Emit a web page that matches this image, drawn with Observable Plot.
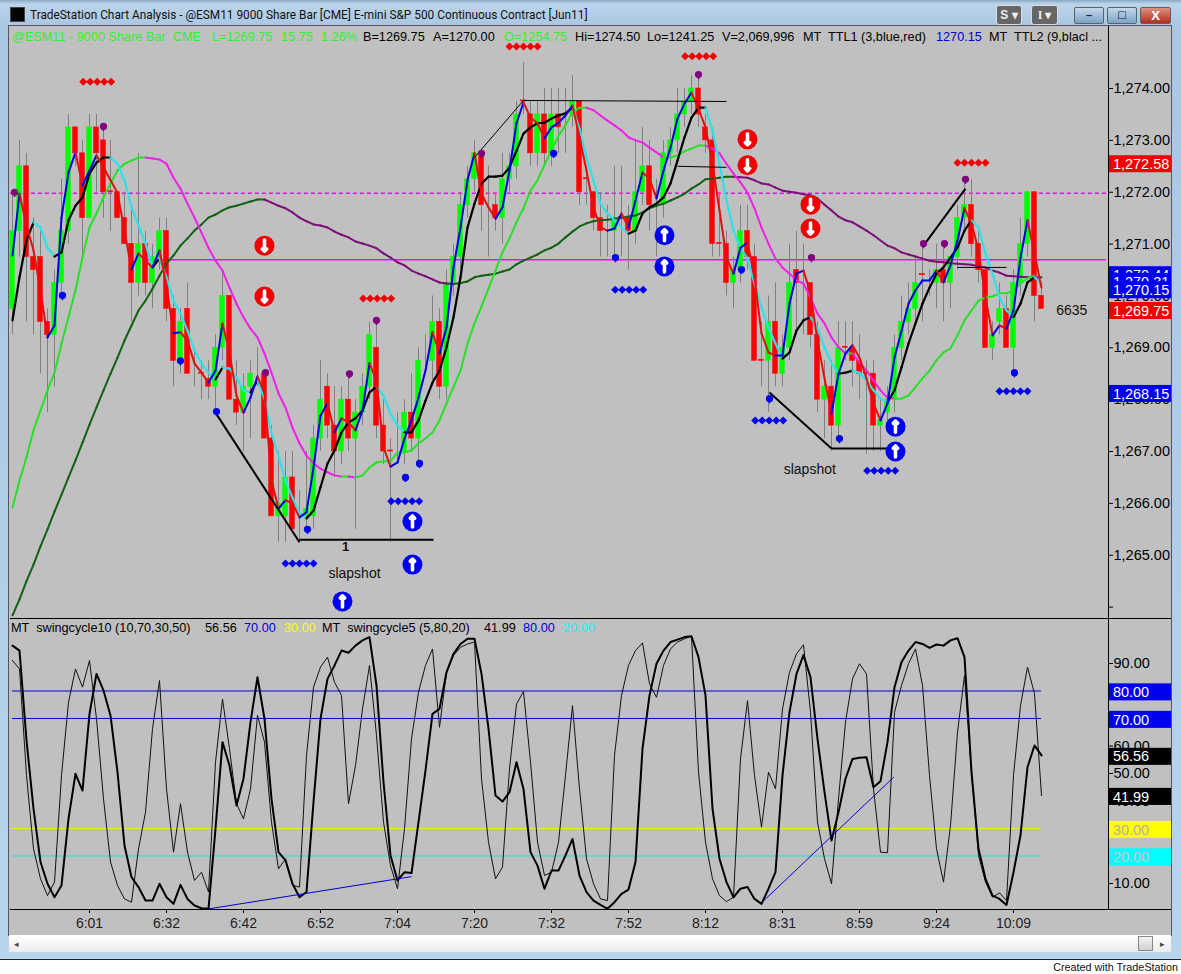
<!DOCTYPE html>
<html><head><meta charset="utf-8">
<script src="https://cdn.jsdelivr.net/npm/d3@7"></script>
<script src="https://cdn.jsdelivr.net/npm/@observablehq/plot@0.6"></script>
<style>
html,body{margin:0;padding:0;background:#fff;width:1181px;height:974px;overflow:hidden;font-family:"Liberation Sans",Arial,sans-serif}
.abs{position:absolute;white-space:pre}
.leg{position:absolute;white-space:pre;font:12.7px "Liberation Sans",sans-serif;line-height:16px}
</style></head><body>
<div id="root" style="position:relative;width:1181px;height:974px"></div>
<script>
const barOpen=[1269.75,1271.25,1272.5,1270.75,1270.75,1269.5,1269.25,1270.25,1271.25,1273.25,
1272.75,1271.5,1273.25,1273,1272.02,1272,1271.5,1271,1270.25,1271,
1270.25,1270.75,1271.25,1269.75,1268.75,1269.75,1268.5,1268.52,1268.4,1268.25,
1269,1270,1268,1267.75,1268.25,1268.5,1268.5,1267.25,1265.75,1265.75,
1266.5,1265.5,1265.75,1265.75,1267.25,1268.25,1267.5,1267,1268,1267.25,
1267.75,1268.25,1269,1267.5,1267.02,1267,1267,1267.75,1267.25,1268.75,
1268.75,1269.5,1268.25,1270.25,1270.75,1271.75,1272.25,1272.75,1271.75,1271.75,
1271.5,1272.25,1272.5,1273.77,1273.5,1272.75,1273.5,1272.75,1273.5,1273.5,
1273.5,1273.75,1272.27,1272,1271.5,1271.25,1271.25,1271.52,1271.5,1271.25,
1272,1272.5,1271.85,1271.75,1272.75,1273,1273.5,1273.75,1274,1273.25,
1273,1271.02,1271,1270.25,1270.5,1271.25,1270.75,1268.77,1268.75,1269.5,
1268.5,1269,1270.5,1270.4,1270.25,1269.25,1268,1268.25,1267.5,1269.02,
1269,1268.75,1268.52,1268.5,1267.5,1267.75,1268,1269,1269.5,1269.75,
1270.42,1270.4,1270.25,1270.5,1270.25,1270.75,1271.5,1271.75,1271,1270.5,
1269,1269.5,1269.75,1269,1270.25,1271,1272,1270];
const barClose=[1271.25,1272.5,1270.75,1270.5,1269.5,1269.25,1270.25,1271.25,1273.25,1272.75,
1271.5,1273.25,1272.75,1272,1272,1271.5,1271,1270.25,1271,1270.25,
1270.75,1271.25,1269.75,1268.75,1269.5,1268.5,1268.5,1268.5,1268.25,1269,
1270,1268,1267.75,1268.25,1268.5,1268.5,1267.25,1265.75,1266,1266.5,
1265.5,1265.5,1265.9,1267.25,1268,1267.5,1267,1268,1267.25,1267.75,
1268.25,1269.25,1267.5,1267,1267,1267,1267.75,1267.25,1268.75,1268.75,
1269.5,1268.25,1270.25,1270.75,1271.75,1272.25,1272.75,1271.75,1271.75,1271.5,
1272.25,1272.5,1273.5,1273.75,1272.75,1273.5,1272.75,1273.5,1273.25,1273.5,
1273.75,1272,1272.25,1271.5,1271.25,1271.25,1271.5,1271.5,1271.25,1272,
1272.5,1271.75,1271.85,1272.75,1273,1273.5,1273.75,1274,1273.5,1273,
1271,1271,1270.25,1270.5,1271.25,1270.75,1268.75,1268.75,1269.5,1268.5,
1269,1270.25,1270.25,1270.4,1269.25,1268,1268.25,1267.5,1269,1269,
1268.75,1268.5,1268.5,1267.5,1267.6,1268,1269,1269.5,1269.75,1270.25,
1270.4,1270.4,1270.5,1270.25,1270.75,1271.5,1271.75,1271,1270.5,1269,
1269.25,1269.75,1269,1270.25,1271,1272,1270,1269.75];
const barHigh=[1272,1273,1272.75,1271.5,1271.25,1269.75,1270.5,1272.25,1273.5,1273.25,
1273,1273.5,1273.5,1273.25,1273,1272,1272,1271.75,1272.75,1271.25,
1271,1271.5,1271.5,1270,1269.75,1270.25,1269,1268.75,1268.75,1269.25,
1270.5,1270,1268.75,1268.5,1268.75,1269,1268.5,1267.5,1267,1267,
1267,1266.25,1267,1267.5,1268.75,1268.5,1268.25,1268.25,1268.5,1268,
1268.5,1269.5,1269.5,1268,1267.25,1267.75,1268,1268.5,1269,1269.25,
1270,1269.75,1270.5,1271,1272,1272.5,1273,1272.75,1272.5,1272,
1272.75,1272.75,1273.75,1274.5,1273.75,1273.75,1274,1274,1274,1274,
1274.25,1273.75,1272.5,1272,1272,1271.75,1272.5,1272.5,1271.75,1273,
1273.25,1273,1272.25,1273,1273.25,1274,1274,1274.25,1274.25,1273.5,
1273.25,1272,1271.25,1270.75,1271.75,1271.75,1271,1269.5,1270,1270.25,
1269.25,1271,1271.25,1271,1270.25,1269.5,1268.75,1268.75,1269.5,1269.5,
1269.5,1269.25,1268.75,1268.75,1268,1268.25,1269.25,1270,1270.25,1270.75,
1271,1270.5,1271,1271,1270.75,1271.75,1272.25,1272.25,1271.25,1270.5,
1269.5,1270.25,1270,1270.5,1271.5,1272,1272,1270.25];
const barLow=[1269.25,1270.75,1269.5,1269.25,1268.5,1267.75,1268.25,1270,1271,1272.5,
1270.75,1271.5,1272,1271.5,1271.25,1271.5,1271,1269.5,1270,1270,
1269.75,1270.5,1269.5,1268.25,1268.5,1268.5,1268.25,1268,1268,1267.75,
1268.75,1268,1267.5,1267,1267.25,1268.25,1267.25,1265.75,1265.25,1265.25,
1265.5,1265.25,1265.5,1265.5,1267,1267.25,1266.5,1266.75,1267,1265.5,
1267.5,1268,1267.25,1266.75,1265.25,1266.75,1266.75,1267,1266.75,1268.5,
1268.25,1268,1268,1270,1270.5,1271.5,1272,1271.25,1270.75,1271.25,
1271,1272,1272.25,1273.5,1272.5,1272.5,1272.5,1272.5,1272.75,1272.75,
1273.25,1271.75,1271.75,1271.25,1270.75,1270.75,1270.75,1270.75,1270.5,1271,
1271.75,1271.25,1270.75,1271.5,1272.5,1272.75,1273.25,1273.5,1273.25,1272.75,
1270.75,1270.75,1270,1269.75,1270.25,1270.5,1268.75,1268.25,1267.75,1268.25,
1268.25,1268.75,1269.25,1269.25,1269,1267.75,1267.25,1267,1267.25,1268.75,
1268.25,1268,1266.95,1267,1267,1267.5,1267.75,1268.75,1269.25,1269.5,
1269.5,1270,1269.75,1269.5,1269.75,1270.5,1271.25,1270.75,1270.25,1269,
1268.75,1269.25,1269,1268.5,1270,1270.75,1269.5,1269.75];
const ttl1=[1270.78,1271.97,1271.36,1270.88,1270.11,1269.20,1269.43,1271.51,1272.38,1272.77,
1272.13,1272.42,1272.71,1272.48,1272.23,1271.99,1271.26,1270.51,1270.82,1270.68,
1270.55,1270.88,1270.20,1269.28,1269.30,1269.14,1268.70,1268.52,1268.33,1268.56,
1269.47,1268.91,1268.08,1267.75,1268.04,1268.45,1268.12,1266.44,1265.90,1266.06,
1266.00,1265.73,1265.83,1266.69,1267.69,1267.93,1267.37,1267.64,1267.56,1267.41,
1267.79,1268.70,1268.37,1267.08,1266.71,1266.79,1267.25,1267.60,1268.04,1268.56,
1269.30,1268.89,1269.39,1270.55,1271.32,1272.23,1272.75,1271.97,1271.71,1271.49,
1271.71,1272.42,1273.33,1273.73,1273.44,1273.33,1273.04,1273.25,1273.34,1273.48,
1273.67,1273.06,1272.42,1271.71,1271.32,1271.26,1271.30,1271.59,1271.32,1271.84,
1272.38,1272.26,1271.88,1272.42,1272.86,1273.42,1273.71,1273.92,1273.61,1273.25,
1272.55,1271.65,1270.74,1270.43,1270.93,1271.03,1270.36,1269.28,1268.91,1268.85,
1268.85,1269.85,1270.43,1270.49,1270.05,1269.14,1268.41,1267.73,1268.50,1268.89,
1269.05,1268.81,1268.41,1267.93,1267.60,1267.93,1268.81,1269.33,1269.85,1270.11,
1270.30,1270.30,1270.49,1270.26,1270.59,1271.07,1271.69,1271.40,1270.88,1269.97,
1269.24,1269.43,1269.37,1269.72,1270.74,1271.46,1270.82,1270.16];
const ttl2=[1269.53,1270.36,1271.07,1271.42,1271.32,1270.93,1270.76,1270.84,1271.46,1271.74,
1271.90,1272.36,1272.57,1272.67,1272.67,1272.55,1272.23,1271.71,1271.36,1271.01,
1270.55,1270.72,1270.36,1269.91,1269.66,1269.33,1268.95,1268.70,1268.52,1268.39,
1268.62,1268.60,1268.43,1268.18,1268.14,1268.37,1268.02,1267.35,1266.92,1266.44,
1266.11,1265.81,1265.71,1265.86,1266.31,1266.77,1267.02,1267.37,1267.56,1267.64,
1267.79,1268.14,1268.25,1268.08,1267.73,1267.50,1267.37,1267.37,1267.60,1267.98,
1268.33,1268.56,1269.01,1269.59,1270.36,1271.32,1271.78,1272.17,1272.30,1272.30,
1272.32,1272.48,1272.80,1273.13,1273.25,1273.33,1273.34,1273.42,1273.48,1273.52,
1273.63,1273.23,1272.67,1272.23,1271.78,1271.59,1271.46,1271.32,1271.20,1271.26,
1271.59,1271.71,1271.78,1271.90,1272.17,1272.61,1273.06,1273.44,1273.63,1273.63,
1273.19,1272.55,1271.84,1271.26,1270.93,1270.72,1270.24,1269.78,1269.39,1269.08,
1268.79,1268.91,1269.33,1269.53,1269.59,1269.39,1269.01,1268.70,1268.50,1268.52,
1268.56,1268.52,1268.37,1268.18,1268.02,1267.95,1268.18,1268.62,1269.08,1269.47,
1269.85,1270.16,1270.43,1270.55,1270.74,1270.93,1271.26,1271.46,1271.32,1270.82,
1270.43,1269.97,1269.72,1269.59,1269.85,1270.26,1270.36,1270.24];
const avgMid=[1265.92,1266.44,1266.89,1267.41,1267.79,1268.18,1268.52,1269.08,1269.59,1270.11,
1270.74,1271.32,1271.59,1271.90,1272.17,1272.42,1272.55,1272.61,1272.67,1272.67,
1272.65,1272.63,1272.55,1272.28,1272.07,1271.78,1271.51,1271.22,1270.93,1270.68,
1270.49,1270.16,1269.85,1269.59,1269.37,1269.20,1268.89,1268.52,1268.12,1267.85,
1267.46,1267.16,1266.92,1266.77,1266.67,1266.60,1266.54,1266.52,1266.52,1266.50,
1266.54,1266.69,1266.79,1266.81,1266.81,1266.98,1266.98,1267.02,1267.16,1267.25,
1267.37,1267.60,1267.93,1268.24,1268.56,1269.08,1269.47,1269.80,1270.14,1270.49,
1270.84,1271.11,1271.42,1271.69,1272.03,1272.23,1272.53,1272.80,1273.09,1273.29,
1273.54,1273.63,1273.63,1273.58,1273.48,1273.38,1273.29,1273.19,1273.06,1273.00,
1272.96,1272.86,1272.77,1272.67,1272.67,1272.71,1272.79,1272.84,1272.90,1272.90,
1272.84,1272.75,1272.55,1272.36,1272.19,1271.99,1271.69,1271.32,1271.01,1270.72,
1270.55,1270.43,1270.30,1270.24,1269.97,1269.66,1269.47,1269.20,1269.01,1268.89,
1268.89,1268.72,1268.56,1268.37,1268.18,1268.04,1268.02,1268.02,1268.08,1268.24,
1268.41,1268.56,1268.76,1268.91,1268.99,1269.24,1269.53,1269.72,1269.91,1269.97,
1269.99,1270.05,1270.05,1270.11,1270.24,1270.34,1270.39,1270.24];
const avgLong=[1263.84,1264.15,1264.50,1264.82,1265.17,1265.50,1265.84,1266.17,1266.50,1266.83,
1267.17,1267.52,1267.85,1268.18,1268.50,1268.81,1269.14,1269.43,1269.72,1269.91,
1270.14,1270.39,1270.63,1270.78,1270.97,1271.11,1271.26,1271.38,1271.51,1271.57,
1271.65,1271.71,1271.74,1271.78,1271.82,1271.86,1271.86,1271.80,1271.74,1271.69,
1271.61,1271.51,1271.44,1271.38,1271.36,1271.32,1271.24,1271.18,1271.13,1271.05,
1271.01,1270.97,1270.92,1270.82,1270.74,1270.65,1270.59,1270.49,1270.43,1270.38,
1270.32,1270.26,1270.24,1270.23,1270.25,1270.28,1270.36,1270.39,1270.41,1270.43,
1270.47,1270.51,1270.61,1270.68,1270.74,1270.80,1270.88,1270.93,1271.01,1271.13,
1271.24,1271.34,1271.40,1271.44,1271.46,1271.47,1271.49,1271.51,1271.53,1271.55,
1271.61,1271.69,1271.74,1271.78,1271.84,1271.90,1271.97,1272.07,1272.15,1272.25,
1272.26,1272.28,1272.30,1272.30,1272.29,1272.28,1272.23,1272.17,1272.15,1272.09,
1272.03,1272.01,1271.99,1271.96,1271.94,1271.88,1271.76,1271.65,1271.53,1271.46,
1271.42,1271.34,1271.26,1271.17,1271.07,1270.97,1270.92,1270.84,1270.80,1270.76,
1270.72,1270.68,1270.66,1270.65,1270.63,1270.62,1270.61,1270.60,1270.57,1270.55,
1270.49,1270.45,1270.39,1270.38,1270.37,1270.36,1270.36,1270.36];
const swing10=[96.5,94.7,62.0,37.2,17.8,9.9,5.0,9.3,33.5,49.9,43.8,71.7,86.2,80.2,71.1,50.5,23.8,12.3,8.7,3.8,
3.8,9.9,5.0,2.6,9.5,4.4,2.0,1.0,0.8,29.9,61.4,52.9,38.4,48.1,68.7,85.0,69.9,40.8,21.4,18.4,
9.9,5.0,6.9,39.6,69.9,84.4,89.3,94.7,93.9,96.5,98.4,99.6,82.0,46.9,20.2,11.1,14.1,13.8,32.3,51.1,
71.7,73.5,86.8,93.5,97.1,99.0,99.0,86.2,66.3,42.0,39.8,43.2,54.1,44.4,21.4,16.5,8.1,14.7,14.7,20.2,
26.2,12.9,6.9,3.8,2.2,0.8,3.2,6.2,7.8,17.8,59.0,78.4,89.9,94.7,97.8,98.7,99.6,99.9,92.3,78.4,
37.2,19.0,10.5,5.0,8.1,8.7,4.4,2.6,8.1,14.1,49.3,72.3,86.2,93.1,85.0,62.6,43.2,25.6,35.9,48.1,
55.3,55.7,55.9,45.0,47.2,61.4,81.4,90.5,94.7,97.8,97.1,95.7,96.9,96.5,98.4,99.2,92.3,50.5,22.6,11.7,
5.6,4.4,2.2,14.1,27.5,52.3,60.2,56.6];
const swing5=[91.1,88.0,49.3,22.6,11.7,5.6,10.5,49.3,75.9,88.0,81.4,91.1,69.9,40.8,17.8,9.3,4.4,3.2,22.6,35.9,
66.3,83.8,44.4,21.4,39.0,21.4,11.1,14.1,6.9,54.1,77.1,59.0,39.0,33.5,44.4,71.1,61.4,32.3,15.3,19.0,
9.3,8.7,56.6,81.4,88.7,92.3,83.2,78.4,39.0,52.9,73.5,89.3,63.8,32.3,16.5,8.1,29.9,62.6,79.6,89.3,
95.3,66.8,86.8,92.9,95.9,97.1,97.8,48.1,25.0,11.7,16.0,51.7,75.3,79.8,54.1,25.0,12.9,14.1,25.0,49.3,
74.7,44.4,19.0,9.9,4.4,3.8,56.6,78.4,89.3,94.7,97.5,82.6,77.7,89.3,95.3,97.8,99.0,99.9,50.5,25.0,
11.7,5.6,3.4,5.0,55.3,76.5,49.3,30.5,50.5,44.4,73.5,86.8,93.5,96.8,72.3,32.3,19.0,9.9,40.8,68.7,
84.4,89.9,86.2,44.4,21.4,21.2,72.3,82.0,89.9,95.3,82.0,49.3,22.6,10.5,31.1,65.0,85.6,50.5,20.2,10.5,
5.0,6.6,3.8,49.3,74.7,88.7,79.0,42.0];
const priceTicks=[1264,1265,1266,1267,1268,1269,1270,1271,1272,1273,1274];
const swingTicks=[10,40,50,60,90];
const timeTickBars=[11,22,33,44,55,66,77,88,99,110,121,132,143];
const timeTickLabels=["6:01","6:32","6:42","6:52","7:04","7:20","7:32","7:52","8:12","8:31","8:59","9:24","10:09"];
const purpleDots=[[0.3,1272],[13,1273.27],[36.14,1268.52],[48.14,1268.5],[52,1269.53],[67,1272.75],[98,1274.27],[114.14,1270.74],[130.14,1271.01],[133.14,1271.01],[136.14,1272.25]];
const blueDots=[[7.14,1270.01],[24,1268.75],[29.14,1267.77],[42.14,1265.5],[56.14,1266.5],[58.14,1266.77],[77.3,1272.75],[86.14,1270.74],[104.14,1270.51],[108.14,1268.02],[118.14,1267.25],[143.14,1268.52]];
const redRows=[[12.1,1274.13],[52.1,1269.95],[73,1274.81],[98.1,1274.62],[137,1272.57]];
const blueRows=[[41,1264.84],[56.1,1266.04],[88.1,1270.12],[108.1,1267.6],[124.1,1266.63],[143,1268.16]];
const upArrows=[[57.14,1265.65],[57.14,1264.82],[47.14,1264.11],[93.14,1271.17],[93.14,1270.57],[126.14,1267.48],[126.14,1267.0]];
const downArrows=[[36,1270.97],[36,1269.99],[105,1273.02],[105,1272.52],[114,1271.76],[114,1271.30]];
const heavyTrends=[[29,1267.75,41,1265.25],[41,1265.3,60.14,1265.3],[108.14,1268.14,117,1267.06],[117,1267.06,125,1267.06],[130.3,1271,136.14,1272.07]];
const lightTrends=[[66,1272.67,73,1273.77],[73,1273.77,102,1273.75],[95,1272.5,102,1272.48],[135,1270.55,142,1270.55]];
const swingTrends=[[28.1,0.8,57,12.5],[107.1,3.2,125.9,48.7]];
const priceBoxes=[[1272.58,"#f00000","1,272.58"],[1270.44,"#0000f0","1,270.44"],[1270.31,"#0000f0","1,270.31"],[1270.15,"#0000f0","1,270.15"],[1269.75,"#f00000","1,269.75"],[1268.15,"#0000f0","1,268.15"]];
const swingBoxes=[[80,"#0000f0","#ffffff","80.00"],[70,"#0000f0","#ffffff","70.00"],[56.56,"#000000","#ffffff","56.56"],[41.99,"#000000","#ffffff","41.99"],[30,"#ffff00","#b0b0b0","30.00"],[20,"#00ffff","#c8c8c8","20.00"]];
const swingLevels=[[80,"#0000e0"],[70,"#0000e0"],[30,"#f0f000"],[20,"#20e0e0"]];
const headerItems=[[12,"@ESM11 - 9000 Share Bar  CME","#33ee33"],[212,"L=1269.75","#33ee33"],[281,"15.75","#33ee33"],[321,"1.26%","#33ee33"],[363,"B=1269.75","#000"],[433,"A=1270.00","#000"],[504,"O=1254.75","#33ee33"],[575,"Hi=1274.50","#000"],[647,"Lo=1241.25","#000"],[722,"V=2,069,996","#000"],[803,"MT  TTL1 (3,blue,red)","#000"],[936,"1270.15","#0000d0"],[989,"MT  TTL2 (9,blacl ...","#000"]];
const swingHeader=[[11,"MT  swingcycle10 (10,70,30,50)","#000"],[205,"56.56","#000"],[244,"70.00","#0000e0"],[284,"30.00","#ffff00"],[322,"MT  swingcycle5 (5,80,20)","#000"],[484,"41.99","#000"],[523,"80.00","#0000e0"],[563,"20.00","#00ffff"]];

const xOpts={domain:[-2/7,1096/7]};
const font='"Liberation Sans",Arial,sans-serif';
const bars=barOpen.map((o,i)=>({i,o,c:barClose[i],h:barHigh[i],l:barLow[i],col:barClose[i]>=o?"#00ff00":"#ff0000"}));
function segs(vals,up,down,w){
  const s=vals.slice(1).map((v,k)=>({a:k,b:vals[k],c:k+1,d:v,col:v>=vals[k]?up:down}));
  return Plot.link(s,{x1:"a",y1:"b",x2:"c",y2:"d",stroke:"col",strokeWidth:w,strokeLinecap:"round"});
}
function rows(list){return list.flatMap(([c,p])=>[-2,-1,0,1,2].map(k=>[c+k,p]));}
function ball(list,col){return [
  Plot.dot(list,{x:d=>d[0],y:d=>d[1],r:3.6,fill:col}),
  Plot.ruleX(list,{x:d=>d[0],y1:d=>d[1],y2:d=>d[1]-0.1,stroke:col,strokeWidth:1.5})
];}
function trend(list,w){return Plot.link(list,{x1:d=>d[0],y1:d=>d[1],x2:d=>d[2],y2:d=>d[3],stroke:"#000",strokeWidth:w});}
function arrows(list,col,rot){return [
  Plot.dot(list,{x:d=>d[0],y:d=>d[1],r:10,fill:col}),
  Plot.vector(list,{x:d=>d[0],y:d=>d[1],length:11,anchor:"middle",rotate:rot,stroke:"#fff",strokeWidth:3.6,shape:"arrow"})
];}
const topPane=Plot.plot({
  width:1181,height:592,marginLeft:10,marginRight:73,marginTop:0,marginBottom:0,
  style:{background:"transparent",fontFamily:font,overflow:"visible"},
  x:{...xOpts,axis:null},
  y:{domain:[1263.78,1275.196],axis:null},
  color:{type:"identity"},
  marks:[
    Plot.ruleY([1271.98],{x1:-0.3,x2:156.3,stroke:"#ff00e0",strokeWidth:1.3,strokeDasharray:"4,3"}),
    Plot.ruleY([1270.7],{x1:19,x2:156.3,stroke:"#ff00ff",strokeWidth:1.5}),
    Plot.ruleX(bars,{x:"i",y1:"l",y2:"h",stroke:"#808080",strokeWidth:1}),
    Plot.rect(bars,{x1:d=>d.i-0.33,x2:d=>d.i+0.33,y1:"o",y2:"c",fill:"col",stroke:"col",strokeWidth:0.6}),
    segs(avgLong,"#126012","#7a1078",2),
    segs(avgMid,"#28e028","#f020e8",2),
    segs(ttl2,"#000000","#30e0e8",2.2),
    segs(ttl1,"#0000e0","#e01010",2),
    trend(heavyTrends,2),
    trend(lightTrends,1),
    ...ball(purpleDots,"#800080"),
    ...ball(blueDots,"#0000f0"),
    Plot.dot(rows(redRows),{x:d=>d[0],y:d=>d[1],r:3.6,symbol:"diamond2",fill:"#f00000"}),
    Plot.dot(rows(blueRows),{x:d=>d[0],y:d=>d[1],r:3.6,symbol:"diamond2",fill:"#0000f0"}),
    ...arrows(upArrows,"#0000f0",0),
    ...arrows(downArrows,"#f00000",180),
    Plot.text(["slapshot"],{x:48.86,y:1264.65,fontSize:14,fill:"#111"}),
    Plot.text(["slapshot"],{x:113.9,y:1266.65,fontSize:14,fill:"#111"}),
    Plot.text(["1"],{x:47.6,y:1265.17,fontSize:13,fontWeight:"bold",fill:"#111"}),
    Plot.text(["6635"],{x:149.1,y:1269.72,fontSize:14,textAnchor:"start",fill:"#111"}),
    Plot.axisY(priceTicks,{anchor:"right",label:null,tickSize:4,tickPadding:1,fontSize:14.5,fill:"#000",stroke:"#000",tickFormat:d=>d===1264?"":d3.format(",.2f")(d)}),
    ...priceBoxes.flatMap(([p,bg,t])=>[
      Plot.rect([p],{x1:156.57,x2:165.57,y1:p-0.04-0.164,y2:p-0.04+0.164,fill:bg}),
      Plot.text([t],{x:157.2,y:p-0.04,textAnchor:"start",fontSize:14.5,fill:"#fff"})
    ]),
    Plot.ruleX([156.57],{stroke:"#000",strokeWidth:1}),
    Plot.ruleY([1263.78],{x1:-0.3,x2:165.57,stroke:"#000",strokeWidth:1})
  ]
});
const swingIdx=swing10.map((_,i)=>i);
const bottomPane=Plot.plot({
  width:1181,height:316,marginLeft:10,marginRight:73,marginTop:0,marginBottom:26,
  style:{background:"transparent",fontFamily:font,overflow:"visible"},
  x:{...xOpts,axis:null},
  y:{domain:[0.545,106],axis:null},
  marks:[
    ...swingLevels.map(([v,c])=>Plot.ruleY([v],{x1:0,x2:147,stroke:c,strokeWidth:1})),
    Plot.line(swingIdx,{x:d=>d,y:d=>swing5[d],stroke:"#111",strokeWidth:1}),
    Plot.line(swingIdx,{x:d=>d,y:d=>swing10[d],stroke:"#000",strokeWidth:2}),
    Plot.link(swingTrends,{x1:d=>d[0],y1:d=>d[1],x2:d=>d[2],y2:d=>d[3],stroke:"#0000d0",strokeWidth:1}),
    Plot.axisY(swingTicks,{anchor:"right",label:null,tickSize:4,tickPadding:1,fontSize:14.5,fill:"#000",stroke:"#000",tickFormat:d3.format(".2f")}),
    Plot.axisX(timeTickBars,{anchor:"bottom",label:null,tickSize:4,tickPadding:5,fontSize:14,fill:"#222",stroke:"#000",tickFormat:(d,k)=>timeTickLabels[k]}),
    ...swingBoxes.flatMap(([v,bg,fg,t])=>[
      Plot.rect([v],{x1:156.57,x2:165.57,y1:v-0.5-3.1,y2:v-0.5+3.1,fill:bg}),
      Plot.text([t],{x:157.2,y:v-0.5,textAnchor:"start",fontSize:14.5,fill:fg})
    ]),
    Plot.ruleX([156.57],{stroke:"#000",strokeWidth:1}),
    Plot.ruleY([0.545],{x1:-0.3,x2:165.57,stroke:"#000",strokeWidth:1})
  ]
});
const root=document.getElementById("root");
function box(l,t,w,h,css,txt){const d=document.createElement("div");d.className="abs";d.style.cssText=`left:${l}px;top:${t}px;width:${w}px;height:${h}px;${css}`;if(txt)d.textContent=txt;root.appendChild(d);return d;}
box(0,0,1181,960,"background:linear-gradient(#8aa9c4 0,#bcd4ea 4px,#a9c6e2 26px,#b8d4ee 100%);");
box(0,959,1181,1,"background:#222");
box(9,26,1162,909,"background:#c0c0c0;box-shadow:0 0 0 1px #556");
box(9,935,1162,17,"background:linear-gradient(#ffffff,#ececec)");
box(1138,936,15,15,"background:linear-gradient(#f4f4f4,#cfcfcf);border:1px solid #888;box-sizing:border-box");
box(14,940,6,8,"color:#444;font:9px 'DejaVu Sans';line-height:8px","\u25C2");
box(1160,940,6,8,"color:#444;font:9px 'DejaVu Sans';line-height:8px","\u25B8");
box(10,7,15,15,"background:#050505;border:1px solid #444;box-sizing:border-box");
box(30,6,600,18,"font:11.85px Roboto,sans-serif;color:#111;line-height:18px","TradeStation Chart Analysis - @ESM11 9000 Share Bar [CME] E-mini S&P 500 Continuous Contract [Jun11]");
box(996,5,26,20,"background:#666;color:#eee;border:1px solid #ddd;box-sizing:border-box;border-radius:3px;font:bold 12px/18px 'Liberation Sans';text-align:center","S \u25BE");
box(1031,5,27,20,"background:#666;color:#eee;border:1px solid #ddd;box-sizing:border-box;border-radius:3px;font:bold 12px/18px 'Liberation Serif';text-align:center","I \u25BE");
box(1074,7,30,17,"background:linear-gradient(#c4d8ec,#7ca2c8);border:1px solid #566;box-sizing:border-box;border-radius:2px;color:#222;font:bold 11px/14px 'Liberation Sans';text-align:center","\u2013");
box(1107,7,30,17,"background:linear-gradient(#c4d8ec,#7ca2c8);border:1px solid #566;box-sizing:border-box;border-radius:2px;color:#222;font:bold 10px/14px 'DejaVu Sans';text-align:center","\u25A1");
box(1140,7,31,17,"background:linear-gradient(#e09080,#b03020);border:1px solid #566;box-sizing:border-box;border-radius:2px;color:#fff;font:bold 13px/15px 'Liberation Sans';text-align:center","X");
const holderA=document.createElement("div");holderA.className="abs";holderA.style.cssText="left:0;top:26px";holderA.appendChild(topPane);root.appendChild(holderA);
const holderB=document.createElement("div");holderB.className="abs";holderB.style.cssText="left:0;top:619px";holderB.appendChild(bottomPane);root.appendChild(holderB);
function legend(list,y){for(const [x,s,c] of list){const d=document.createElement("div");d.className="leg";d.style.cssText=`left:${x}px;top:${y}px;color:${c}`;d.textContent=s;root.appendChild(d);}}
legend(headerItems,29);
legend(swingHeader,620);
box(1000,961,178,13,"font:10.8px/13px 'Liberation Sans';color:#111;text-align:right","Created with TradeStation");
</script>
</body></html>
